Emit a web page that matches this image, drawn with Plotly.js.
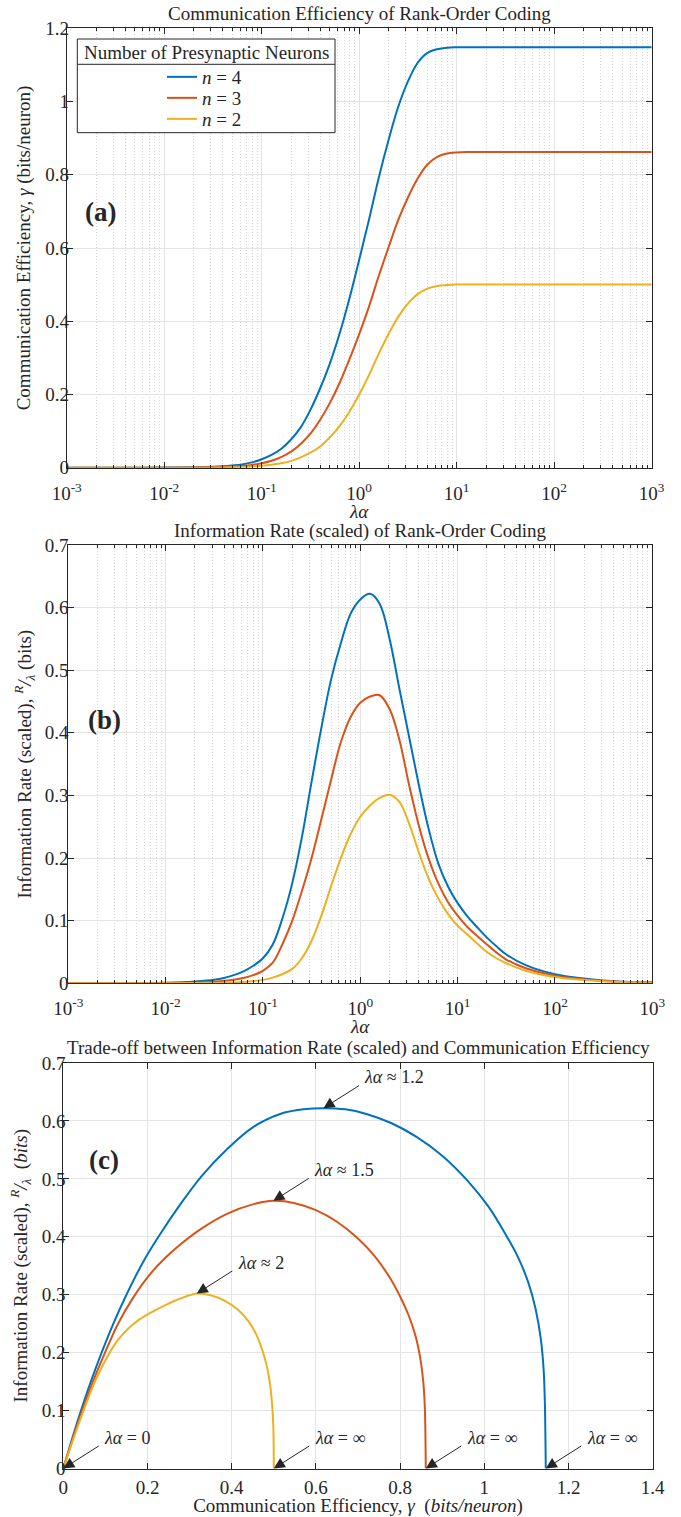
<!DOCTYPE html>
<html>
<head>
<meta charset="utf-8">
<script src="https://cdn.plot.ly/plotly-3.0.1.min.js"></script>
<style>html,body{margin:0;padding:0;background:#fff}</style>
</head>
<body>
<div id="chart" style="width:681px;height:1517px"></div>
<script>
// ---------------- data ----------------
const lambdaAlpha = [0.001, 0.00316, 0.01, 0.02, 0.0316, 0.0398, 0.0501, 0.0631, 0.0794, 0.1, 0.126, 0.158, 0.2, 0.251, 0.316, 0.398, 0.501, 0.631, 0.794, 1, 1.26, 1.58, 2.0, 2.51, 3.16, 3.98, 5.01, 6.31, 7.94, 10, 12.6, 15.8, 20, 25.1, 31.6, 50.1, 100, 316, 1000];

// (a) communication efficiency gamma (bits/neuron)
const gammaN4 = [0, 0, 0.0003, 0.0011, 0.0025, 0.0038, 0.006, 0.009, 0.0145, 0.023, 0.035, 0.051, 0.077, 0.110, 0.158, 0.217, 0.285, 0.367, 0.462, 0.568, 0.677, 0.790, 0.895, 0.985, 1.055, 1.106, 1.133, 1.143, 1.147, 1.148, 1.148, 1.148, 1.148, 1.148, 1.148, 1.148, 1.148, 1.148, 1.148];
const gammaN3 = [0, 0, 0.0001, 0.0005, 0.0012, 0.0019, 0.003, 0.0048, 0.0076, 0.012, 0.019, 0.029, 0.044, 0.065, 0.093, 0.131, 0.177, 0.232, 0.296, 0.365, 0.440, 0.522, 0.602, 0.676, 0.738, 0.790, 0.828, 0.849, 0.858, 0.861, 0.862, 0.862, 0.862, 0.862, 0.862, 0.862, 0.862, 0.862, 0.862];
const gammaN2 = [0, 0, 0.0001, 0.0002, 0.0005, 0.0008, 0.0012, 0.002, 0.0031, 0.005, 0.0078, 0.012, 0.018, 0.028, 0.041, 0.058, 0.083, 0.114, 0.153, 0.200, 0.253, 0.310, 0.365, 0.412, 0.448, 0.474, 0.489, 0.496, 0.499, 0.500, 0.500, 0.500, 0.500, 0.500, 0.500, 0.500, 0.500, 0.500, 0.500];

// (b) information rate (scaled) R/lambda (bits)
const rateN4 = [0, 0.0002, 0.0008, 0.0028, 0.0055, 0.0085, 0.013, 0.019, 0.028, 0.040, 0.062, 0.103, 0.160, 0.233, 0.322, 0.408, 0.485, 0.543, 0.590, 0.613, 0.622, 0.606, 0.550, 0.472, 0.395, 0.318, 0.248, 0.192, 0.155, 0.128, 0.107, 0.090, 0.073, 0.059, 0.046, 0.029, 0.0145, 0.0046, 0.0015];
const rateN3 = [0, 0.0001, 0.0003, 0.001, 0.0025, 0.004, 0.0058, 0.0085, 0.013, 0.020, 0.033, 0.062, 0.100, 0.147, 0.200, 0.262, 0.325, 0.385, 0.425, 0.448, 0.458, 0.460, 0.438, 0.390, 0.318, 0.253, 0.200, 0.160, 0.130, 0.108, 0.090, 0.076, 0.062, 0.049, 0.038, 0.024, 0.012, 0.0038, 0.0012];
const rateN2 = [0, 0, 0.0001, 0.0003, 0.0006, 0.0009, 0.0014, 0.0022, 0.0035, 0.0055, 0.009, 0.0145, 0.023, 0.040, 0.068, 0.108, 0.155, 0.200, 0.238, 0.266, 0.284, 0.296, 0.301, 0.290, 0.256, 0.210, 0.168, 0.136, 0.111, 0.092, 0.078, 0.064, 0.050, 0.040, 0.032, 0.020, 0.010, 0.0032, 0.001];

// (c) trade-off curves (gamma, R/lambda)
const tradeGammaN4 = [0, 0.02, 0.042, 0.065, 0.091, 0.12, 0.150, 0.19, 0.226, 0.277, 0.33, 0.39, 0.45, 0.515, 0.57, 0.618, 0.67, 0.72, 0.78, 0.84, 0.90, 0.96, 1.01, 1.05, 1.08, 1.105, 1.122, 1.134, 1.141, 1.144, 1.146];
const tradeRateN4  = [0, 0.049, 0.100, 0.149, 0.200, 0.252, 0.300, 0.357, 0.400, 0.455, 0.506, 0.552, 0.589, 0.612, 0.620, 0.622, 0.620, 0.612, 0.596, 0.572, 0.540, 0.497, 0.452, 0.405, 0.365, 0.320, 0.275, 0.225, 0.170, 0.110, 0];
const tradeGammaN3 = [0, 0.02, 0.045, 0.07, 0.099, 0.13, 0.166, 0.20, 0.24, 0.28, 0.33, 0.39, 0.45, 0.499, 0.55, 0.60, 0.65, 0.70, 0.74, 0.775, 0.80, 0.82, 0.837, 0.848, 0.855, 0.859, 0.861];
const tradeRateN3  = [0, 0.046, 0.100, 0.149, 0.200, 0.250, 0.295, 0.330, 0.362, 0.388, 0.415, 0.440, 0.456, 0.462, 0.458, 0.446, 0.426, 0.397, 0.366, 0.330, 0.297, 0.265, 0.228, 0.190, 0.150, 0.100, 0];
const tradeGammaN2 = [0, 0.02, 0.048, 0.075, 0.107, 0.13, 0.155, 0.18, 0.21, 0.245, 0.28, 0.317, 0.35, 0.385, 0.415, 0.44, 0.458, 0.472, 0.483, 0.491, 0.496, 0.499, 0.500];
const tradeRateN2  = [0, 0.043, 0.100, 0.150, 0.196, 0.222, 0.242, 0.257, 0.270, 0.283, 0.294, 0.302, 0.299, 0.289, 0.274, 0.254, 0.232, 0.206, 0.178, 0.146, 0.110, 0.070, 0];

const seriesNames = ['<i>n</i> = 4', '<i>n</i> = 3', '<i>n</i> = 2'];
const legendTitle = 'Number of Presynaptic Neurons';
const decadeTicks = [0.001, 0.01, 0.1, 1, 10, 100, 1000];
const decadeLabels = ['10<sup>-3</sup>', '10<sup>-2</sup>', '10<sup>-1</sup>', '10<sup>0</sup>', '10<sup>1</sup>', '10<sup>2</sup>', '10<sup>3</sup>'];
const lambdaAlphaTitle = '<i>λα</i>';
const peakLabels = ['<i>λα</i> ≈ 1.2', '<i>λα</i> ≈ 1.5', '<i>λα</i> ≈ 2'];
const zeroLabel = '<i>λα</i> = 0';
const infLabel = '<i>λα</i> = ∞';

// ---------------- style ----------------
const FONT = 'Liberation Serif, Times New Roman, serif';
const INK = '#262626';
const W = 681, H = 1517;
const px = v => v / W;
const py = v => 1 - v / H;
const colors = ['#0072BD', '#D95319', '#EDB120'];
const legendIds = ['legend', 'legend2', 'legend3'];
const legendCentres = [77, 98, 119];

const minorTicks = [];
for (let d = -3; d < 3; d++) for (let k = 2; k <= 9; k++) minorTicks.push(k * Math.pow(10, d));

const gammaSets = [gammaN4, gammaN3, gammaN2];
const rateSets = [rateN4, rateN3, rateN2];
const tradeG = [tradeGammaN4, tradeGammaN3, tradeGammaN2];
const tradeR = [tradeRateN4, tradeRateN3, tradeRateN2];

function lineStyle(c, s) { return {color: c, width: 2, shape: 'spline', smoothing: s}; }

const traces = [];
for (let i = 0; i < 3; i++) {
  traces.push({x: lambdaAlpha, y: gammaSets[i], xaxis: 'x', yaxis: 'y', mode: 'lines',
    name: seriesNames[i], legend: legendIds[i], line: lineStyle(colors[i], 1.0), showlegend: true, hoverinfo: 'skip'});
}
for (let i = 0; i < 3; i++) {
  traces.push({x: lambdaAlpha, y: rateSets[i], xaxis: 'x2', yaxis: 'y2', mode: 'lines',
    name: seriesNames[i], line: lineStyle(colors[i], 1.0), showlegend: false, hoverinfo: 'skip'});
}
for (let i = 0; i < 3; i++) {
  traces.push({x: tradeG[i], y: tradeR[i], xaxis: 'x3', yaxis: 'y3', mode: 'lines',
    name: seriesNames[i], line: lineStyle(colors[i], 0.8), showlegend: false, hoverinfo: 'skip'});
}

function titleFont(size) { return {family: FONT, size: size, color: INK}; }
function axisBase(extra) {
  return Object.assign({
    showline: true, linecolor: INK, linewidth: 1, mirror: 'ticks',
    ticks: 'inside', ticklen: 6, tickwidth: 1, tickcolor: INK,
    showgrid: true, gridcolor: '#e4e4e4', gridwidth: 1, zeroline: false,
    tickfont: titleFont(19),
    fixedrange: true
  }, extra);
}
function logX(domain, anchor) {
  return axisBase({
    domain: domain, anchor: anchor, type: 'log', range: [-3, 3],
    tickmode: 'array', tickvals: decadeTicks, ticktext: decadeLabels, ticklabelstandoff: 8,
    minor: {tickmode: 'array', tickvals: minorTicks, ticks: 'inside', ticklen: 3,
            tickcolor: INK, showgrid: true, gridcolor: '#d6d6d6', griddash: '1px,2px', gridwidth: 1}
  });
}

const layout = {
  width: W, height: H,
  margin: {l: 0, r: 0, t: 0, b: 0},
  paper_bgcolor: '#fff', plot_bgcolor: '#fff',
  font: {family: FONT, color: INK},
  xaxis: logX([px(66.7), px(651.7)], 'y'),
  yaxis: axisBase({domain: [py(467.7), py(28.3)], anchor: 'x', range: [0, 1.2], dtick: 0.2, tick0: 0,
    ticklabelstandoff: -7,
    title: {text: 'Communication Efficiency, <i>γ</i> (bits/neuron)', font: titleFont(19), standoff: 9}}),
  xaxis2: logX([px(68.3), px(652.3)], 'y2'),
  yaxis2: axisBase({domain: [py(983.3), py(545)], anchor: 'x2', range: [0, 0.7], dtick: 0.1, tick0: 0,
    ticklabelstandoff: -5,
    title: {text: 'Information Rate (scaled), <i><sup>R</sup>/<sub>λ</sub></i> (bits)', font: titleFont(19), standoff: 8}}),
  xaxis3: axisBase({domain: [px(63.3), px(652.7)], anchor: 'y3', range: [0, 1.4], dtick: 0.2, tick0: 0,
    ticklabelstandoff: 2,
    title: {text: 'Communication Efficiency, <i>γ</i>  (<i>bits/neuron</i>)', font: titleFont(19), standoff: 4}}),
  yaxis3: axisBase({domain: [py(1468.5), py(1063)], anchor: 'x3', range: [0, 0.7], dtick: 0.1, tick0: 0,
    ticklabelstandoff: -7,
    title: {text: 'Information Rate (scaled), <i><sup>R</sup>/<sub>λ</sub></i>  (<i>bits</i>)', font: titleFont(19), standoff: 9}}),
  showlegend: true,
  shapes: [
    {type: 'rect', xref: 'paper', yref: 'paper', x0: px(77.3), x1: px(335), y0: py(132.7), y1: py(39),
     line: {color: INK, width: 1}, fillcolor: '#fff', layer: 'above'},
    {type: 'line', xref: 'paper', yref: 'paper', x0: px(77.3), x1: px(335), y0: py(64.3), y1: py(64.3),
     line: {color: INK, width: 1}, layer: 'above'}
  ],
  annotations: []
};
legendIds.forEach((id, i) => {
  layout[id] = {x: px(162), xanchor: 'left', y: py(legendCentres[i]), yanchor: 'middle',
    bgcolor: 'rgba(0,0,0,0)', borderwidth: 0, font: titleFont(19), itemwidth: 30};
});

const A = layout.annotations;
A.push({xref: 'paper', yref: 'paper', x: px(359.2), y: py(14), text: 'Communication Efficiency of Rank-Order Coding',
  showarrow: false, font: titleFont(19), xanchor: 'center', yanchor: 'middle'});
A.push({xref: 'paper', yref: 'paper', x: px(360.3), y: py(531), text: 'Information Rate (scaled) of Rank-Order Coding',
  showarrow: false, font: titleFont(19), xanchor: 'center', yanchor: 'middle'});
A.push({xref: 'paper', yref: 'paper', x: px(358), y: py(1048), text: 'Trade-off between Information Rate (scaled) and Communication Efficiency',
  showarrow: false, font: titleFont(19), xanchor: 'center', yanchor: 'middle'});
// x-axis titles of panels (a) and (b)
A.push({xref: 'paper', yref: 'paper', x: px(359.2), y: py(511), text: lambdaAlphaTitle,
  showarrow: false, font: titleFont(19), xanchor: 'center', yanchor: 'middle'});
A.push({xref: 'paper', yref: 'paper', x: px(360.3), y: py(1026.5), text: lambdaAlphaTitle,
  showarrow: false, font: titleFont(19), xanchor: 'center', yanchor: 'middle'});
A.push({xref: 'paper', yref: 'paper', x: px(206), y: py(52), text: legendTitle,
  showarrow: false, font: titleFont(19), xanchor: 'center', yanchor: 'middle'});
[['(a)', 82.7, 212], ['(b)', 86, 720], ['(c)', 86.7, 1160]].forEach(l => {
  A.push({xref: 'paper', yref: 'paper', x: px(l[1]), y: py(l[2]), text: '<b>' + l[0] + '</b>',
    showarrow: false, font: {family: FONT, size: 27, color: INK}, xanchor: 'left', yanchor: 'middle'});
});

// arrows in panel (c)
const AX = 37, AY = -23.5;
function arrowAt(x, y, label) {
  A.push({xref: 'x3', yref: 'y3', x: x, y: y, ax: AX, ay: AY, text: ' ', font: {size: 1},
    showarrow: true, arrowhead: 2, arrowsize: 2.2, arrowwidth: 1, arrowcolor: INK, standoff: 0, startstandoff: 0});
  A.push({xref: 'x3', yref: 'y3', x: x, y: y, text: label, showarrow: false, xanchor: 'left', yanchor: 'middle',
    xshift: AX + 2, yshift: -AY + 7.5, font: titleFont(18)});
}
for (let i = 0; i < 3; i++) {
  const r = tradeR[i];
  const k = r.indexOf(Math.max(...r));
  arrowAt(tradeG[i][k], r[k], peakLabels[i]);
}
arrowAt(tradeG[2][0], tradeR[2][0], zeroLabel);
for (let i = 2; i >= 0; i--) {
  const g = tradeG[i];
  arrowAt(g[g.length - 1], tradeR[i][g.length - 1], infLabel);
}

Plotly.newPlot('chart', traces, layout, {displayModeBar: false, staticPlot: true});
</script>
</body>
</html>
